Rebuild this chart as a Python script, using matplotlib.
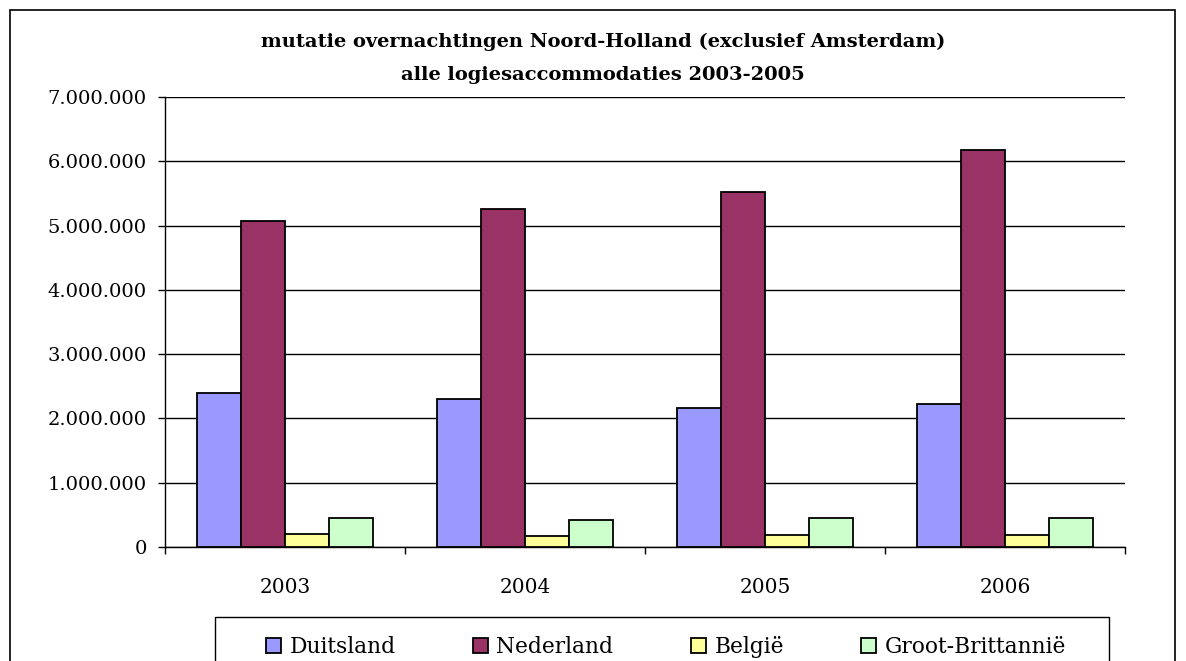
import matplotlib
matplotlib.use("Agg")
from matplotlib import pyplot as plt
from matplotlib.patches import Rectangle
from matplotlib.ticker import FuncFormatter, FixedLocator
import numpy as np

years = ["2003", "2004", "2005", "2006"]
duitsland = [2390000, 2310000, 2170000, 2230000]
nederland = [5070000, 5260000, 5520000, 6180000]
belgie = [198000, 176000, 190000, 190000]
groot_brittannie = [456000, 420000, 456000, 456000]

series = [("Duitsland", duitsland, "#9999FF"),
          ("Nederland", nederland, "#993366"),
          ("België", belgie, "#FFFF99"),
          ("Groot-Brittannië", groot_brittannie, "#CCFFCC")]

plt.rcParams['font.family'] = ['DejaVu Serif']

W, H = 1186, 661
fig = plt.figure(figsize=(W / 100, H / 100), dpi=100)
fig.patch.set_facecolor("white")

# outer chart border (bottom runs off the picture)
fig.patches.append(Rectangle((10 / W, -0.05), 1165 / W, 1 - 10 / H + 0.05,
                             transform=fig.transFigure, fill=False,
                             edgecolor="black", lw=1.2))
# legend box (bottom runs off the picture)
fig.patches.append(Rectangle((215 / W, -0.05), 894 / W, 1 - 617 / H + 0.05,
                             transform=fig.transFigure, fill=False,
                             edgecolor="black", lw=1))

ax = fig.add_axes([165 / W, 1 - 547 / H, 960 / W, 450 / H])

x = np.arange(len(years)) + 0.5
w = 0.183
for i, (name, vals, col) in enumerate(series):
    ax.bar(x + (i - 1.5) * w, vals, w, color=col, edgecolor="black",
           linewidth=1.3, label=name, zorder=3)

ax.set_xlim(0, 4)
ax.set_ylim(0, 7000000)
ax.set_yticks(np.arange(0, 7000001, 1000000))
ax.yaxis.set_major_formatter(FuncFormatter(lambda v, p: f"{int(v):,}".replace(",", ".")))
ax.grid(axis="y", color="black", lw=1, zorder=0)

ax.set_xticks(x)
ax.set_xticklabels(years)
ax.tick_params(axis="x", which="major", length=0, pad=22, labelsize=14.5)
ax.xaxis.set_minor_locator(FixedLocator([0, 1, 2, 3, 4]))
ax.tick_params(axis="x", which="minor", length=5, direction="out", width=1)
ax.tick_params(axis="y", length=5, direction="out", width=1, labelsize=14, pad=8)

ax.spines[['top', 'right']].set_visible(False)
ax.spines['left'].set_linewidth(1)
ax.spines['bottom'].set_linewidth(1)

fig.text(603 / W, 1 - 42 / H, "mutatie overnachtingen Noord-Holland (exclusief Amsterdam)",
         ha="center", va="center", fontsize=14, fontweight="bold")
fig.text(603 / W, 1 - 75 / H, "alle logiesaccommodaties 2003-2005",
         ha="center", va="center", fontsize=14, fontweight="bold")

leg = fig.legend(loc="center", bbox_to_anchor=(666 / W, 1 - 647 / H),
                 ncol=4, fontsize=15.7, frameon=False,
                 handlelength=0.68, handleheight=0.68,
                 handletextpad=0.4, columnspacing=3.55, borderpad=0)

fig.savefig("out.png", dpi=100)
